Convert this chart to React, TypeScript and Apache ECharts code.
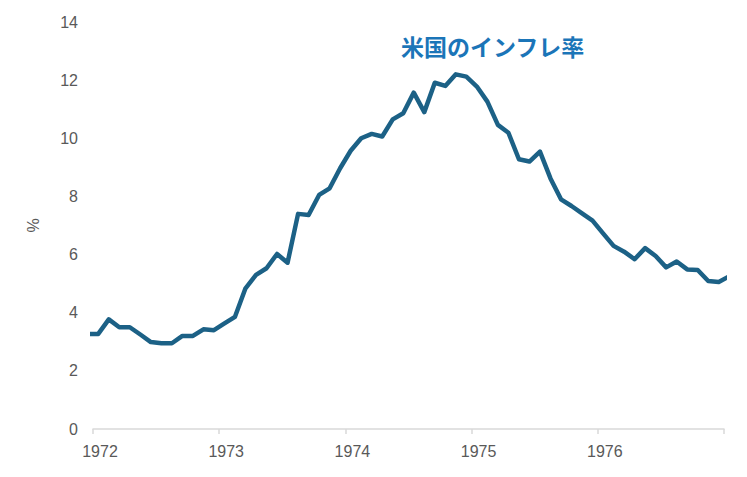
import React, { useEffect, useRef } from "react";
import * as echarts from "echarts";

// Months (YYYY-MM) and US CPI inflation (% YoY)
const months: string[] = [
  "1971-12",
  "1972-01", "1972-02", "1972-03", "1972-04", "1972-05", "1972-06",
  "1972-07", "1972-08", "1972-09", "1972-10", "1972-11", "1972-12",
  "1973-01", "1973-02", "1973-03", "1973-04", "1973-05", "1973-06",
  "1973-07", "1973-08", "1973-09", "1973-10", "1973-11", "1973-12",
  "1974-01", "1974-02", "1974-03", "1974-04", "1974-05", "1974-06",
  "1974-07", "1974-08", "1974-09", "1974-10", "1974-11", "1974-12",
  "1975-01", "1975-02", "1975-03", "1975-04", "1975-05", "1975-06",
  "1975-07", "1975-08", "1975-09", "1975-10", "1975-11", "1975-12",
  "1976-01", "1976-02", "1976-03", "1976-04", "1976-05", "1976-06",
  "1976-07", "1976-08", "1976-09", "1976-10", "1976-11", "1976-12",
  "1977-01",
];

const inflation: number[] = [
  3.27,
  3.27, 3.77, 3.5, 3.5, 3.25, 2.99,
  2.95, 2.95, 3.2, 3.2, 3.43, 3.4,
  3.63, 3.86, 4.84, 5.3, 5.53, 6.02,
  5.72, 7.4, 7.36, 8.05, 8.28, 8.97,
  9.57, 10.0, 10.15, 10.06, 10.65, 10.86,
  11.57, 10.9, 11.91, 11.8, 12.2, 12.12,
  11.78, 11.26, 10.46, 10.19, 9.28, 9.2,
  9.54, 8.62, 7.9, 7.67, 7.42, 7.17,
  6.73, 6.3, 6.1, 5.84, 6.22, 5.95,
  5.56, 5.76, 5.49, 5.47, 5.09, 5.06,
  5.25,
];

const yearTicks: number[] = [1972, 1973, 1974, 1975, 1976, 1977];
const titleText = "米国のインフレ率";
const yAxisName = "%";

export default function App() {
  const ref = useRef<HTMLDivElement>(null);

  useEffect(() => {
    if (!ref.current) return;
    const chart = echarts.init(ref.current, undefined, { renderer: "svg" });

    // Each monthly value is plotted at the middle of its month
    const data = months.map((m, i) => {
      const [y, mo] = m.split("-").map(Number);
      return [y + (mo - 0.5) / 12, inflation[i]];
    });

    const font = "'Liberation Sans', Arial, sans-serif";

    chart.setOption({
      animation: false,
      backgroundColor: "#ffffff",
      title: {
        text: titleText,
        left: 401,
        top: 34,
        padding: 0,
        textStyle: {
          fontFamily: "'Noto Sans CJK JP', sans-serif",
          fontSize: 23,
          fontWeight: "bold",
          color: "#1b75b8",
        },
      },
      grid: { left: 93, right: 23, top: 22, bottom: 48, containLabel: false },
      xAxis: {
        type: "value",
        min: yearTicks[0],
        max: yearTicks[yearTicks.length - 1],
        interval: 1,
        splitLine: { show: false },
        axisLine: { show: true, lineStyle: { color: "#d9d9d9", width: 1.5 } },
        axisTick: { show: true, length: 5, lineStyle: { color: "#d9d9d9", width: 1.5 } },
        axisLabel: {
          margin: 14,
          fontFamily: font,
          fontSize: 16,
          color: "#595959",
          padding: [0, 0, 0, 14],
          formatter: (v: number) =>
            v === yearTicks[yearTicks.length - 1] ? "" : String(v),
        },
      },
      yAxis: {
        type: "value",
        min: 0,
        max: 14,
        interval: 2,
        name: yAxisName,
        nameLocation: "middle",
        nameGap: 52,
        nameTextStyle: { fontFamily: font, fontSize: 16, color: "#595959" },
        splitLine: { show: false },
        axisLine: { show: false },
        axisTick: { show: false },
        axisLabel: {
          margin: 15,
          fontFamily: font,
          fontSize: 16,
          color: "#595959",
        },
      },
      series: [
        {
          type: "line",
          data,
          clip: true,
          showSymbol: false,
          symbol: "none",
          lineStyle: { color: "#1c6186", width: 4.5, join: "round", cap: "round" },
        },
      ],
    });

    return () => chart.dispose();
  }, []);

  return (
    <div
      ref={ref}
      style={{ position: "fixed", left: 0, top: 0, width: 747, height: 477 }}
    />
  );
}
